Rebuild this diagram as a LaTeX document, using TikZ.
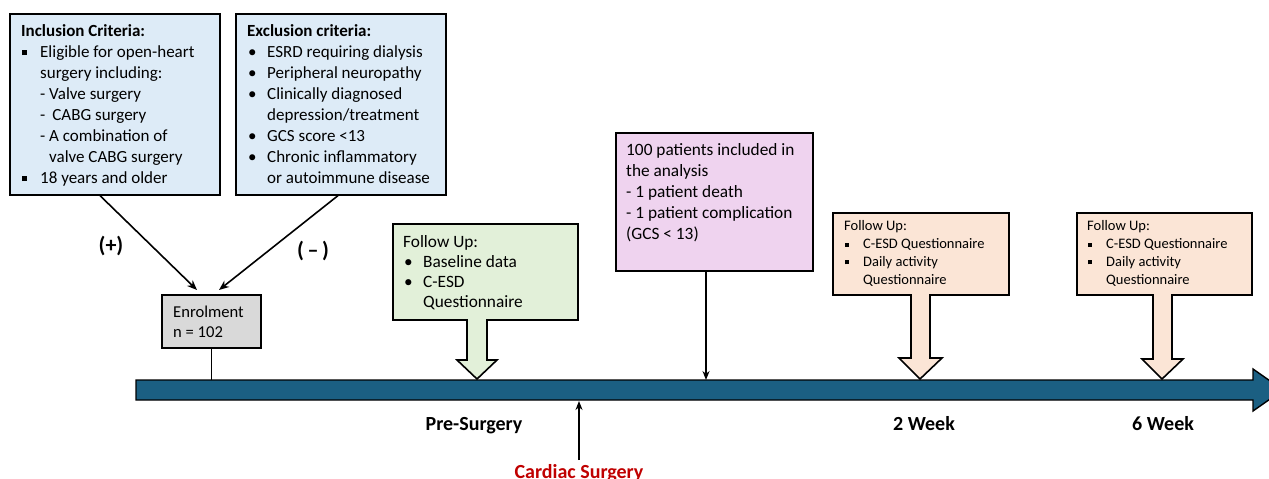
\documentclass[tikz,border=0pt]{standalone}
\usepackage{fontspec}
\setmainfont{Carlito}
\usetikzlibrary{arrows.meta,calc}
\definecolor{cblue}{HTML}{DDEBF7}
\definecolor{cgreen}{HTML}{E2F0D9}
\definecolor{cpink}{HTML}{EFD3EF}
\definecolor{cpeach}{HTML}{FBE5D6}
\definecolor{cgray}{HTML}{D9D9D9}
\definecolor{cteal}{HTML}{1B5F82}
\definecolor{cred}{HTML}{C00000}
\newcommand{\sqb}[1]{\makebox[#1][l]{\hspace{1pt}\rule[2pt]{5pt}{5pt}}}
\newcommand{\smsqb}[1]{\makebox[#1][l]{\hspace{1pt}\rule[2pt]{4pt}{4pt}}}
\newcommand{\dotb}[1]{\makebox[#1][l]{\hspace{1pt}\textbullet}}
\newcommand{\myind}[1]{\hspace*{#1}}
\tikzset{
  box/.style={draw=black, line width=1.6pt, rectangle, inner sep=0pt, anchor=north west},
  txt/.style={inner sep=0pt, align=left, anchor=base west, font=\fontsize{17}{21}\selectfont},
  smalltxt/.style={inner sep=0pt, align=left, anchor=base west, font=\fontsize{14.5}{17.7}\selectfont},
  lbl/.style={inner sep=0pt, anchor=base, font=\fontsize{20}{24}\selectfont\bfseries},
  conn/.style={line width=1.6pt, -{Stealth[length=10pt,width=8pt]}},
  plain/.style={line width=1.6pt},
  blockarrow/.style={draw=black, line width=1.6pt, line join=miter},
}
\begin{document}
\begin{tikzpicture}[x=1pt,y=-1pt]
\useasboundingbox (0,0) rectangle (1269,479);

% boxes
\node[box, fill=cblue, minimum width=210pt, minimum height=181pt] (inc) at (9,13) {};
\node[box, fill=cblue, minimum width=210pt, minimum height=181pt] (exc) at (235,13) {};
\node[box, fill=cgray, minimum width=99pt, minimum height=53pt] (enr) at (161,294) {};
\node[box, fill=cgreen, minimum width=185pt, minimum height=96pt] (fu0) at (392,223) {};
\node[box, fill=cpink, minimum width=197pt, minimum height=138pt] (res) at (615,132) {};
\node[box, fill=cpeach, minimum width=176pt, minimum height=82pt] (fu2) at (832,212) {};
\node[box, fill=cpeach, minimum width=175pt, minimum height=82pt] (fu6) at (1076,212) {};

% texts (anchored at the baseline of their last line)
\node[txt] (inctext) at (21,183) {\textbf{Inclusion Criteria:}\\
\sqb{19pt}Eligible for open-heart\\
\myind{19pt}surgery including:\\
\myind{19pt}- Valve surgery\\
\myind{19pt}-\hspace{7pt}CABG surgery\\
\myind{19pt}- A combination of\\
\myind{28pt}valve CABG surgery\\
\sqb{19pt}18 years and older};

\node[txt] (exctext) at (247,183) {\textbf{Exclusion criteria:}\\
\dotb{20pt}ESRD requiring dialysis\\
\dotb{20pt}Peripheral neuropathy\\
\dotb{20pt}Clinically diagnosed\\
\myind{20pt}depression/treatment\\
\dotb{20pt}GCS score <13\\
\dotb{20pt}Chronic inflammatory\\
\myind{20pt}or autoimmune disease};

\node[txt, font=\fontsize{16.6}{20}\selectfont] (enrtext) at (173,337) {Enrolment\\n = 102};

\node[txt, font=\fontsize{17.3}{20}\selectfont] (fu0text) at (403,307) {Follow Up:\\
\dotb{20pt}Baseline data\\
\dotb{20pt}C-ESD\\
\myind{20pt}Questionnaire};

\node[txt, font=\fontsize{17.3}{21}\selectfont] (restext) at (626,239) {100 patients included in\\
the analysis\\
- 1 patient death\\
- 1 patient complication\\
(GCS < 13)};

\node[smalltxt] (fu2text) at (844,284) {Follow Up:\\
\smsqb{19pt}C-ESD Questionnaire\\
\smsqb{19pt}Daily activity\\
\myind{19pt}Questionnaire};

\node[smalltxt] (fu6text) at (1087,284) {Follow Up:\\
\smsqb{19pt}C-ESD Questionnaire\\
\smsqb{19pt}Daily activity\\
\myind{19pt}Questionnaire};

% timeline
\fill[cteal, draw=black, line width=1.4pt, line join=miter]
  (136,380) -- (1253,380) -- (1253,369) -- (1283,390) -- (1253,411) -- (1253,400) -- (136,400) -- cycle;
\coordinate (tl) at (136,380);

% connectors
\draw[conn] ($(inc.south west)+(91,0)$) -- ($(enr.north west)+(36,-4)$);
\draw[conn] ($(exc.south west)+(103,0)$) -- ($(enr.north west)+(58,-4)$);
\node[lbl, font=\fontsize{22}{26}\selectfont\bfseries] (plus) at (111,252) {(+)};
\node[lbl, font=\fontsize{22}{26}\selectfont\bfseries] (minus) at (313,257) {(\,–\,)};

\draw[plain] (enr.south) -- (enr.south |- tl);

\coordinate (restip) at (706,380);
\draw[line width=1.4pt, -{Stealth[length=9pt,width=7pt]}] (res.south -| restip) -- (restip);

% block arrows
\draw[blockarrow, fill=cgreen] (467,319) -- (467,360) -- (457,360) -- (477,379) -- (497,360) -- (487,360) -- (487,319);
\draw[blockarrow, fill=cpeach] (911,294) -- (911,358) -- (899,358) -- (920,379) -- (942,358) -- (930,358) -- (930,294);
\draw[blockarrow, fill=cpeach] (1153,294) -- (1153,359) -- (1142,359) -- (1162,379) -- (1183,359) -- (1172,359) -- (1172,294);

% labels
\node[lbl] (pre) at (474,430) {Pre-Surgery};
\node[lbl] (w2) at (924,430) {2 Week};
\node[lbl] (w6) at (1163,430) {6 Week};
\node[lbl, text=cred] (cs) at (579,478) {Cardiac Surgery};
\coordinate (cstip) at (579,401);
\draw[line width=1.4pt, -{Stealth[length=9pt,width=7pt]}] (579,460) -- (cstip);
\end{tikzpicture}
\end{document}
